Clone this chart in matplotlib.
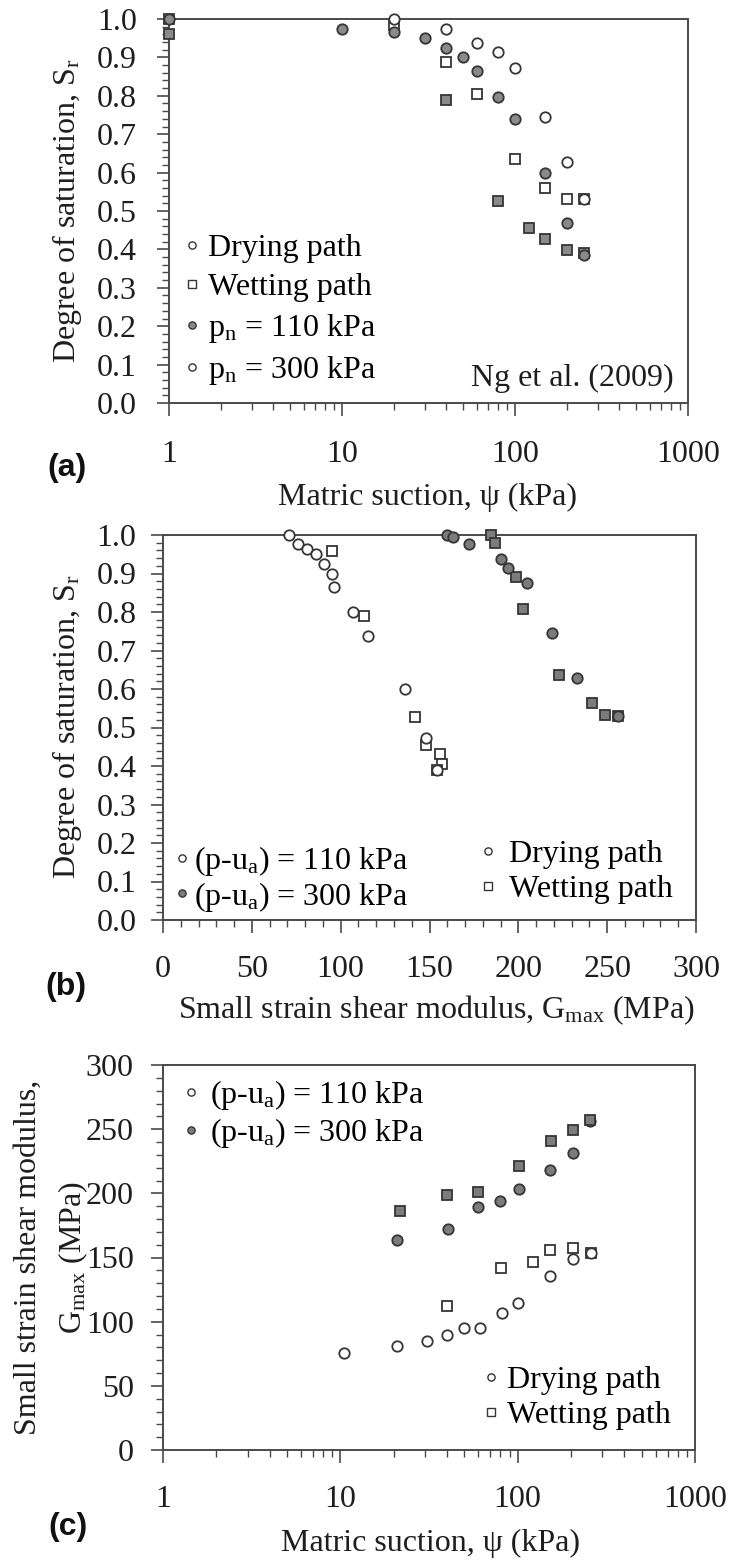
import matplotlib
matplotlib.use("Agg")
import matplotlib.pyplot as plt
from matplotlib.lines import Line2D
from matplotlib.ticker import FixedLocator, MultipleLocator, FixedFormatter, NullFormatter

plt.rcParams['font.family'] = ['Liberation Serif', 'DejaVu Serif']
plt.rcParams['mathtext.fontset'] = 'custom'
plt.rcParams['mathtext.rm'] = 'Liberation Serif'
plt.rcParams['mathtext.it'] = 'Liberation Serif:italic'
plt.rcParams['mathtext.bf'] = 'Liberation Serif:bold'

# ---------------- data: panel (a) suction vs degree of saturation ----------------
a_dry110_psi = [1, 10, 20, 30, 40, 50, 60, 80, 100, 150, 200, 250]
a_dry110_sr = [1.0, 0.975, 0.965, 0.95, 0.925, 0.90, 0.865, 0.796, 0.739, 0.598, 0.47, 0.385]
a_wet110_psi = [1, 40, 80, 120, 150, 200, 250]
a_wet110_sr = [0.96, 0.79, 0.525, 0.455, 0.427, 0.398, 0.39]
a_dry300_psi = [20, 40, 60, 80, 100, 150, 200, 250]
a_dry300_sr = [1.0, 0.975, 0.937, 0.913, 0.873, 0.746, 0.628, 0.53]
a_wet300_psi = [1, 20, 40, 60, 100, 150, 200, 250]
a_wet300_sr = [1.0, 0.985, 0.889, 0.805, 0.635, 0.561, 0.531, 0.53]

# ---------------- data: panel (b) Gmax vs degree of saturation ----------------
b_dry110_g = [71, 76, 81, 86, 90.5, 95, 96.5, 107, 115.5, 136, 148, 154]
b_dry110_sr = [1.0, 0.977, 0.963, 0.951, 0.925, 0.899, 0.866, 0.799, 0.738, 0.599, 0.474, 0.39]
b_wet110_g = [95, 113, 142, 148, 156, 157, 154]
b_wet110_sr = [0.958, 0.790, 0.528, 0.455, 0.43, 0.405, 0.39]
b_dry300_g = [160, 163, 172, 190, 194, 205, 219, 233, 256]
b_dry300_sr = [1.0, 0.996, 0.977, 0.938, 0.913, 0.875, 0.746, 0.629, 0.53]
b_wet300_g = [184.5, 187, 198.5, 202.5, 223, 241.5, 248.5, 256]
b_wet300_sr = [1.0, 0.980, 0.890, 0.808, 0.636, 0.563, 0.532, 0.53]

# ---------------- data: panel (c) suction vs Gmax ----------------
c_dry110_psi = [10.5, 21, 31, 40, 50, 61, 82, 101, 152, 204, 258]
c_dry110_g = [75.4, 81, 85.2, 89.6, 94.8, 95.3, 106.5, 114.8, 135.9, 148.6, 153.8]
c_wet110_psi = [40, 81, 122, 152, 204, 258]
c_wet110_g = [112.2, 141.6, 146.8, 155.9, 157.7, 153.8]
c_dry300_psi = [21, 40.6, 60, 79.6, 101.8, 152, 204.5, 256]
c_dry300_g = [163.7, 172.2, 189.6, 194.1, 203.4, 218.2, 231.2, 256.5]
c_wet300_psi = [21.7, 39.8, 59.6, 101.8, 153.6, 204.5, 256]
c_wet300_g = [186.5, 198.8, 201.3, 221.6, 240.8, 249.4, 257.2]

log_ticks = [1, 10, 100, 1000]
log_labels = ['1', '10', '100', '1000']

W, H = 729, 1563
FS = 23
GRAY_A = '#8a8a8a'
GRAY = '#7c7c7c'
EDGE = '#353535'
SPINE = '#4a4a4a'
TXT = '#1e1e1e'

fig = plt.figure(figsize=(W / 100, H / 100), dpi=100)


def rect(l, r, t, b):
    return [l / W, 1 - b / H, (r - l) / W, (b - t) / H]


def fy(ypx):
    return 1 - ypx / H


def fx(xpx):
    return xpx / W


def style(ax, ypad, xpad=18):
    for s in ax.spines.values():
        s.set_color(SPINE)
        s.set_linewidth(1.4)
    ax.tick_params(which='major', direction='out', length=9, width=1.2, color=SPINE,
                   labelsize=FS, labelcolor=TXT)
    ax.tick_params(which='minor', direction='out', length=5, width=1.0, color=SPINE)
    ax.tick_params(axis='x', which='major', pad=xpad)
    ax.tick_params(axis='y', which='major', pad=ypad)
    ax.tick_params(top=False, right=False, which='both')


def pts(ax, x, y, marker, face, ms):
    ax.plot(x, y, linestyle='none', marker=marker, markersize=ms, markerfacecolor=face,
            markeredgecolor=EDGE, markeredgewidth=1.3, clip_on=False, zorder=3)


def handle(marker, face, ms=5.2):
    return Line2D([], [], linestyle='none', marker=marker, markersize=ms,
                  markerfacecolor=face, markeredgecolor=EDGE, markeredgewidth=1.0)


def legend(ax, handles, labels, x, y, htp, ls):
    return ax.legend(handles, labels, loc='upper left', bbox_to_anchor=(fx(x), fy(y)),
                     bbox_transform=fig.transFigure, frameon=False, fontsize=FS,
                     borderpad=0, borderaxespad=0, handlelength=0.5,
                     handletextpad=htp, labelspacing=ls)


def set_log_x(ax):
    ax.set_xscale('log')
    ax.set_xlim(1, 1000)
    ax.xaxis.set_major_locator(FixedLocator(log_ticks))
    ax.xaxis.set_major_formatter(FixedFormatter(log_labels))
    minors = [m * d for d in (1, 10, 100) for m in range(2, 10)]
    ax.xaxis.set_minor_locator(FixedLocator(minors))
    ax.xaxis.set_minor_formatter(NullFormatter())


def sr_axis(ax):
    ax.set_ylim(0, 1.0)
    ax.yaxis.set_major_locator(MultipleLocator(0.1))
    ax.yaxis.set_minor_locator(MultipleLocator(0.02))
    ax.yaxis.set_major_formatter(plt.FuncFormatter(lambda v, p: f'{v:.1f}'))


def panel_label(x, y, s):
    fig.text(fx(x), fy(y), s, ha='left', va='center', fontsize=23, fontweight='bold',
             family=['Liberation Sans', 'DejaVu Sans'], color='#111111')


# ================= panel (a) =================
axA = fig.add_axes(rect(169, 688, 19, 403))
set_log_x(axA)
sr_axis(axA)
style(axA, ypad=14)
pts(axA, a_wet300_psi, a_wet300_sr, 's', 'white', 7)
pts(axA, a_wet110_psi, a_wet110_sr, 's', GRAY_A, 7)
pts(axA, a_dry300_psi, a_dry300_sr, 'o', 'white', 7.5)
pts(axA, a_dry110_psi, a_dry110_sr, 'o', GRAY_A, 7.5)
legend(axA, [handle('o', 'white'), handle('s', 'white'), handle('o', GRAY_A), handle('o', 'white')],
       ['Drying path', 'Wetting path', r'p$_\mathrm{n}$ = 110 kPa', r'p$_\mathrm{n}$ = 300 kPa'],
       184, 234, 0.25, 0.3)
axA.text(0.973, 0.065, 'Ng et al. (2009)', transform=axA.transAxes, ha='right', va='center',
         fontsize=FS, color=TXT)
fig.text(fx(67), fy(211), r'Degree of saturation, S$_\mathrm{r}$', rotation=90, ha='center',
         va='center', fontsize=FS, color=TXT)
fig.text(fx(428), fy(497), 'Matric suction, ψ (kPa)', ha='center', va='center', fontsize=FS,
         color=TXT)
panel_label(47, 468, '(a)')

# ================= panel (b) =================
axB = fig.add_axes(rect(163, 696, 535, 920))
axB.set_xlim(0, 300)
axB.xaxis.set_major_locator(MultipleLocator(50))
axB.xaxis.set_minor_locator(MultipleLocator(10))
sr_axis(axB)
style(axB, ypad=10, xpad=16)
pts(axB, b_wet110_g, b_wet110_sr, 's', 'white', 7)
pts(axB, b_dry110_g, b_dry110_sr, 'o', 'white', 7.5)
pts(axB, b_wet300_g, b_wet300_sr, 's', GRAY, 7)
pts(axB, b_dry300_g, b_dry300_sr, 'o', GRAY, 7.5)
legB1 = legend(axB, [handle('o', 'white'), handle('o', GRAY)],
               [r'(p-u$_\mathrm{a}$) = 110 kPa', r'(p-u$_\mathrm{a}$) = 300 kPa'],
               174, 844, 0.12, 0.05)
axB.add_artist(legB1)
legend(axB, [handle('o', 'white'), handle('s', 'white')], ['Drying path', 'Wetting path'],
       480, 840, 0.4, 0.17)
fig.text(fx(67), fy(727), r'Degree of saturation, S$_\mathrm{r}$', rotation=90, ha='center',
         va='center', fontsize=FS, color=TXT)
fig.text(fx(436), fy(1010), r'Small strain shear modulus, G$_\mathrm{max}$ (MPa)', ha='center',
         va='center', fontsize=FS, color=TXT)
panel_label(45, 987, '(b)')

# ================= panel (c) =================
axC = fig.add_axes(rect(163, 695, 1065, 1450))
set_log_x(axC)
axC.set_ylim(0, 300)
axC.yaxis.set_major_locator(MultipleLocator(50))
axC.yaxis.set_minor_locator(MultipleLocator(10))
style(axC, ypad=12, xpad=16)
pts(axC, c_wet110_psi, c_wet110_g, 's', 'white', 7)
pts(axC, c_dry110_psi, c_dry110_g, 'o', 'white', 7.5)
pts(axC, c_dry300_psi, c_dry300_g, 'o', GRAY, 7.5)
pts(axC, c_wet300_psi, c_wet300_g, 's', GRAY, 7)
legC1 = legend(axC, [handle('o', 'white'), handle('o', GRAY)],
               [r'(p-u$_\mathrm{a}$) = 110 kPa', r'(p-u$_\mathrm{a}$) = 300 kPa'],
               183, 1078, 0.35, 0.12)
axC.add_artist(legC1)
legend(axC, [handle('o', 'white'), handle('s', 'white')], ['Drying path', 'Wetting path'],
       483, 1366, 0.25, 0.17)
fig.text(fx(28), fy(1257), 'Small strain shear modulus,', rotation=90, ha='center', va='center',
         fontsize=FS, color=TXT)
fig.text(fx(73), fy(1257), r'G$_\mathrm{max}$ (MPa)', rotation=90, ha='center', va='center',
         fontsize=FS, color=TXT)
fig.text(fx(430), fy(1543), 'Matric suction, ψ (kPa)', ha='center', va='center', fontsize=FS,
         color=TXT)
panel_label(48, 1527, '(c)')

fig.savefig('out.png', dpi=100)
